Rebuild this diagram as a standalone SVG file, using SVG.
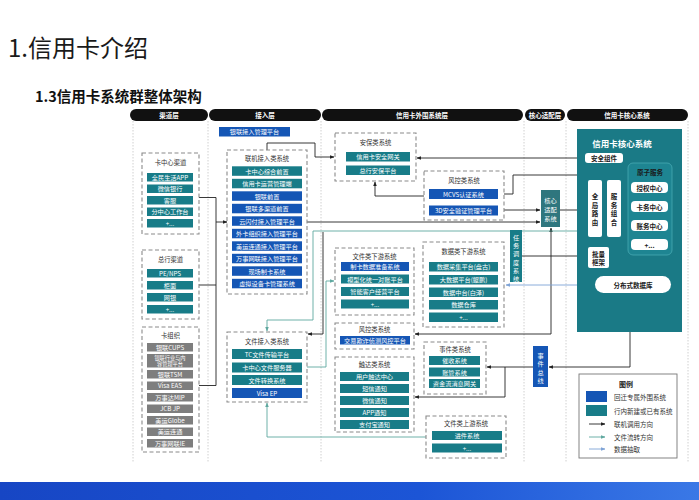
<svg xmlns="http://www.w3.org/2000/svg" width="699" height="500" viewBox="0 0 699 500">
<defs>
<style>
text{font-family:"Noto Sans CJK SC","Noto Sans",sans-serif}
.grp{fill:#fff;stroke:#8a8a8a;stroke-width:1.1;stroke-dasharray:4 2.5}
.gt{font-size:6.3px;fill:#333;text-anchor:middle}
.t{fill:#187c88}
.b{fill:#1556b5}
.g{fill:#7e7e7e}
.it{font-size:6.2px;fill:#fff;text-anchor:middle;dominant-baseline:central}
.sm{font-size:5.2px;fill:#fff;text-anchor:middle}
.pill{fill:#111}
.pt{font-size:6.5px;fill:#fff;text-anchor:middle;dominant-baseline:central;font-weight:bold}
.sep{stroke:#c4c4c4;stroke-width:0.8;stroke-dasharray:1.5 1.5;fill:none}
.wb{fill:#fff}
.wt{font-size:6.5px;fill:#1a1a1a;text-anchor:middle;dominant-baseline:central;font-weight:bold}
.ln{fill:none;stroke:#222;stroke-width:0.9}
.lf{fill:none;stroke:#5fa89f;stroke-width:0.9}
.ld{fill:none;stroke:#7ea3d6;stroke-width:0.9}
.lg{font-size:6.5px;fill:#333;dominant-baseline:central}
</style>
<marker id="ak" viewBox="0 0 10 10" refX="9" refY="5" markerWidth="5" markerHeight="5" orient="auto-start-reverse"><path d="M0,1 L10,5 L0,9 z" fill="#222"/></marker>
<marker id="af" viewBox="0 0 10 10" refX="9" refY="5" markerWidth="5" markerHeight="5" orient="auto-start-reverse"><path d="M0,1 L10,5 L0,9 z" fill="#5fa89f"/></marker>
<marker id="ad" viewBox="0 0 10 10" refX="9" refY="5" markerWidth="5" markerHeight="5" orient="auto-start-reverse"><path d="M0,1 L10,5 L0,9 z" fill="#7ea3d6"/></marker>
<linearGradient id="band" x1="0" y1="0" x2="1" y2="0"><stop offset="0" stop-color="#1746c4"/><stop offset="0.6" stop-color="#1c55d6"/><stop offset="1" stop-color="#3a78e6"/></linearGradient>
</defs>
<rect width="699" height="500" fill="#fff"/>
<text x="8" y="57" font-size="24" fill="#1a1a1a">1.信用卡介绍</text>
<text x="35" y="102" font-size="14.5" font-weight="bold" fill="#111">1.3信用卡系统群整体架构</text>
<rect x="0" y="482" width="699" height="18" fill="url(#band)"/>

<g id="columns">
<path class="sep" d="M133,121V462M208,121V462M321,121V462M524,121V462M566,121V462M688,121V462"/>
<rect class="pill" x="130" y="109" width="78" height="12" rx="6"/><text class="pt" x="169" y="115">渠道层</text>
<rect class="pill" x="209" y="109" width="112" height="12" rx="6"/><text class="pt" x="265" y="115">接入层</text>
<rect class="pill" x="322" y="109" width="201" height="12" rx="6"/><text class="pt" x="422" y="115">信用卡外围系统层</text>
<rect class="pill" x="525" y="109" width="40" height="12" rx="6"/><text class="pt" x="545" y="115">核心适配层</text>
<rect class="pill" x="567" y="109" width="121" height="12" rx="6"/><text class="pt" x="627" y="115">信用卡核心系统</text>
</g>

<g id="connectors">
<path class="ln" d="M199,197.5H216V222H227" marker-end="url(#ak)"/>
<path class="ln" d="M199,285H216V222"/>
<path class="ln" d="M199,385.5H216V285"/>
<path class="ln" d="M267,150V143H315V157H334" marker-end="url(#ak)"/>
<path class="ln" d="M585,158H417" marker-end="url(#ak)"/>
<path class="ln" d="M614,180V175H513V194H499" marker-end="url(#ak)"/>
<path class="ln" d="M430,196H375V182" marker-end="url(#ak)"/>
<path class="ln" d="M498,210H540" marker-end="url(#ak)"/>
<path class="ln" d="M307,222H540" marker-end="url(#ak)"/>
<path class="ln" d="M560,210H587" marker-end="url(#ak)"/>
<path class="ln" d="M522,256H587" marker-end="url(#ak)"/>
<path class="ln" d="M551,228V334H415" marker-start="url(#ak)" marker-end="url(#ak)"/>
<path class="ln" d="M630,332V367H549" marker-end="url(#ak)"/>
<path class="ln" d="M533,367H487" marker-end="url(#ak)"/>
<path class="ln" d="M505,367V397H415" marker-end="url(#ak)"/>
<path class="ln" d="M323,232V334H308" marker-end="url(#ak)"/>
<path class="lf" d="M577,231H313V320H267V331" marker-end="url(#af)"/>
<path class="lf" d="M426,437H267V403" marker-end="url(#af)"/>
<path class="lf" d="M307,367H326V281H334" marker-end="url(#af)"/>
<path class="ld" d="M577,285H506" marker-end="url(#ad)"/>
</g>

<g id="kzx">
<rect class="grp" x="142" y="153" width="57" height="81"/>
<text class="gt" x="170.5" y="165">卡中心渠道</text>
<rect class="t" x="147" y="173" width="46" height="8.5"/><text class="it" x="170" y="177.3">全民生活APP</text>
<rect class="t" x="147" y="184.5" width="46" height="8.5"/><text class="it" x="170" y="188.8">微信银行</text>
<rect class="t" x="147" y="196" width="46" height="8.5"/><text class="it" x="170" y="200.3">客服</text>
<rect class="t" x="147" y="207.5" width="46" height="8.5"/><text class="it" x="170" y="211.8">分中心工作台</text>
<rect class="t" x="147" y="219" width="46" height="8.5"/><text class="it" x="170" y="223.3">+...</text>
</g>
<g id="zhqd">
<rect class="grp" x="142" y="250" width="57" height="69"/>
<text class="gt" x="170.5" y="262">总行渠道</text>
<rect class="t" x="147" y="269" width="46" height="8.5"/><text class="it" x="170" y="273.3">PE/NPS</text>
<rect class="t" x="147" y="281" width="46" height="8.5"/><text class="it" x="170" y="285.3">柜面</text>
<rect class="t" x="147" y="293" width="46" height="8.5"/><text class="it" x="170" y="297.3">网银</text>
<rect class="t" x="147" y="305" width="46" height="8.5"/><text class="it" x="170" y="309.3">+...</text>
</g>
<g id="kzz">
<rect class="grp" x="142" y="327" width="57" height="125"/>
<text class="gt" x="170.5" y="338">卡组织</text>
<rect class="g" x="147" y="343" width="46" height="8.5"/><text class="it" x="170" y="347.3">银联CUPS</text>
<rect class="g" x="147" y="354" width="46" height="13.5"/><text class="sm" x="170" y="359.6">银联行业与内<tspan x="170" dy="6.2">容管理平台</tspan></text>
<rect class="g" x="147" y="370" width="46" height="8.5"/><text class="it" x="170" y="374.3">银联TSM</text>
<rect class="g" x="147" y="381.5" width="46" height="8.5"/><text class="it" x="170" y="385.8">Visa EAS</text>
<rect class="g" x="147" y="393" width="46" height="8.5"/><text class="it" x="170" y="397.3">万事达MIP</text>
<rect class="g" x="147" y="404.5" width="46" height="8.5"/><text class="it" x="170" y="408.8">JCB JP</text>
<rect class="g" x="147" y="416" width="46" height="8.5"/><text class="it" x="170" y="420.3">美运Globe</text>
<rect class="g" x="147" y="427.5" width="46" height="8.5"/><text class="it" x="170" y="431.8">美运连通</text>
<rect class="g" x="147" y="439" width="46" height="8.5"/><text class="it" x="170" y="443.3">万事网联IE</text>
</g>

<g id="ylgl">
<rect class="b" x="219" y="127" width="71" height="9.5"/><text class="it" x="254.5" y="131.8">银联接入管理平台</text>
</g>
<g id="ljjr">
<rect class="grp" x="227" y="150" width="80" height="144"/>
<text class="gt" x="267" y="161">联机接入类系统</text>
<rect class="t" x="232" y="166.3" width="70" height="9.5"/><text class="it" x="267" y="171">卡中心综合前置</text>
<rect class="t" x="232" y="178.8" width="70" height="9.5"/><text class="it" x="267" y="183.5">信用卡运营管理端</text>
<rect class="b" x="232" y="191.3" width="70" height="9.5"/><text class="it" x="267" y="196">银联前置</text>
<rect class="b" x="232" y="203.8" width="70" height="9.5"/><text class="it" x="267" y="208.5">银联多渠道前置</text>
<rect class="b" x="232" y="216.3" width="70" height="9.5"/><text class="it" x="267" y="221">云闪付接入管理平台</text>
<rect class="b" x="232" y="228.8" width="70" height="9.5"/><text class="it" x="267" y="233.5">外卡组织接入管理平台</text>
<rect class="b" x="232" y="241.3" width="70" height="9.5"/><text class="it" x="267" y="246">美运连通接入管理平台</text>
<rect class="b" x="232" y="253.8" width="70" height="9.5"/><text class="it" x="267" y="258.5">万事网联接入管理平台</text>
<rect class="b" x="232" y="266.3" width="70" height="9.5"/><text class="it" x="267" y="271">现场制卡系统</text>
<rect class="b" x="232" y="278.8" width="70" height="9.5"/><text class="it" x="267" y="283.5">虚拟设备卡管理系统</text>
</g>
<g id="wjjr">
<rect class="grp" x="227" y="332" width="80" height="70"/>
<text class="gt" x="267" y="344">文件接入类系统</text>
<rect class="t" x="232" y="349" width="70" height="10"/><text class="it" x="267" y="354">TC文件传输平台</text>
<rect class="t" x="232" y="362.5" width="70" height="10"/><text class="it" x="267" y="367.5">卡中心文件服务器</text>
<rect class="t" x="232" y="375" width="70" height="10"/><text class="it" x="267" y="380">文件转换系统</text>
<rect class="b" x="232" y="388" width="70" height="10"/><text class="it" x="267" y="393">Visa EP</text>
</g>

<g id="abl">
<rect class="grp" x="335" y="133" width="81" height="48"/>
<text class="gt" x="375.5" y="145">安保类系统</text>
<rect class="t" x="346" y="152" width="64" height="9.5"/><text class="it" x="378" y="156.8">信用卡安全网关</text>
<rect class="t" x="346" y="165.5" width="64" height="9.5"/><text class="it" x="378" y="170.3">总行安保平台</text>
</g>
<g id="fkl1">
<rect class="grp" x="424" y="171" width="80" height="49"/>
<text class="gt" x="464" y="183">风控类系统</text>
<rect class="b" x="429" y="189" width="69" height="10"/><text class="it" x="463.5" y="194">MCVS认证系统</text>
<rect class="b" x="429" y="205.5" width="69" height="10"/><text class="it" x="463.5" y="210.5">3D安全验证管理平台</text>
</g>
<g id="wjxy">
<rect class="grp" x="335" y="248" width="79" height="67"/>
<text class="gt" x="374.5" y="259">文件类下游系统</text>
<rect class="b" x="341" y="262" width="68" height="9"/><text class="it" x="375" y="266.5">制卡数据准备系统</text>
<rect class="t" x="341" y="274.5" width="68" height="9"/><text class="it" x="375" y="279">模型化统一对账平台</text>
<rect class="t" x="341" y="287" width="68" height="9"/><text class="it" x="375" y="291.5">智能客户经营平台</text>
<rect class="t" x="341" y="299.5" width="68" height="9"/><text class="it" x="375" y="304">+...</text>
</g>
<g id="sjxy">
<rect class="grp" x="423" y="242" width="81" height="85"/>
<text class="gt" x="463.5" y="254">数据类下游系统</text>
<rect class="t" x="429" y="262" width="69" height="9.5"/><text class="it" x="463.5" y="266.8">数据采集平台(盘古)</text>
<rect class="t" x="429" y="275" width="69" height="9.5"/><text class="it" x="463.5" y="279.8">大数据平台(鲲鹏)</text>
<rect class="t" x="429" y="287.5" width="69" height="9.5"/><text class="it" x="463.5" y="292.3">数据中台(白泽)</text>
<rect class="t" x="429" y="300" width="69" height="9.5"/><text class="it" x="463.5" y="304.8">数据仓库</text>
<rect class="t" x="429" y="312.5" width="69" height="9.5"/><text class="it" x="463.5" y="317.3">+...</text>
</g>
<g id="fkl2">
<rect class="grp" x="335" y="323" width="79" height="26"/>
<text class="gt" x="374.5" y="332">风控类系统</text>
<rect class="b" x="340" y="336" width="70" height="8.5"/><text class="it" x="375" y="340.3">交易欺诈侦测风控平台</text>
</g>
<g id="cdl">
<rect class="grp" x="335" y="357" width="79" height="75"/>
<text class="gt" x="374.5" y="367">触达类系统</text>
<rect class="t" x="340" y="372" width="69" height="9"/><text class="it" x="374.5" y="376.5">用户触达中心</text>
<rect class="t" x="340" y="384" width="69" height="9"/><text class="it" x="374.5" y="388.5">短信通知</text>
<rect class="t" x="340" y="396" width="69" height="9"/><text class="it" x="374.5" y="400.5">微信通知</text>
<rect class="t" x="340" y="408" width="69" height="9"/><text class="it" x="374.5" y="412.5">APP通知</text>
<rect class="t" x="340" y="420" width="69" height="9"/><text class="it" x="374.5" y="424.5">支付宝通知</text>
</g>
<g id="sjl">
<rect class="grp" x="424" y="342" width="62" height="52"/>
<text class="gt" x="455" y="352">事件类系统</text>
<rect class="t" x="429" y="356" width="51" height="9"/><text class="it" x="454.5" y="360.5">催收系统</text>
<rect class="t" x="429" y="367.5" width="51" height="9"/><text class="it" x="454.5" y="372">账管系统</text>
<rect class="t" x="429" y="379" width="51" height="9"/><text class="it" x="454.5" y="383.5">资金流消息网关</text>
</g>
<g id="wjsy">
<rect class="grp" x="426" y="416" width="80" height="42"/>
<text class="gt" x="466" y="426">文件类上游系统</text>
<rect class="t" x="432" y="431" width="70" height="9"/><text class="it" x="467" y="435.5">进件系统</text>
<rect class="t" x="432" y="443.5" width="70" height="9"/><text class="it" x="467" y="448">+...</text>
</g>

<g id="rwdd">
<rect class="t" x="510" y="230" width="12" height="52"/>
<text class="it" x="516" y="237.5">任</text><text class="it" x="516" y="245.7">务</text><text class="it" x="516" y="253.9">调</text><text class="it" x="516" y="262.1">度</text><text class="it" x="516" y="270.3">系</text><text class="it" x="516" y="278.5">统</text>
</g>
<g id="hxsp">
<rect fill="#2f767e" x="541" y="190" width="19" height="37"/>
<text class="it" x="550.5" y="200">核心</text><text class="it" x="550.5" y="209">适配</text><text class="it" x="550.5" y="218">系统</text>
</g>
<g id="sjzx">
<rect class="b" x="533" y="346" width="15" height="41"/>
<text class="it" x="540.5" y="355">事</text><text class="it" x="540.5" y="363.5">件</text><text class="it" x="540.5" y="372">总</text><text class="it" x="540.5" y="380.5">线</text>
</g>

<g id="core">
<rect fill="#1a7a86" x="577" y="129" width="105" height="203"/>
<text x="622" y="143" font-size="8.5" font-weight="bold" fill="#fff" text-anchor="middle" dominant-baseline="central">信用卡核心系统</text>
<rect class="wb" x="585" y="153" width="38" height="10" rx="3"/><text class="wt" x="604" y="158">安全组件</text>
<rect fill="#1e8592" stroke="#48a9b3" stroke-width="0.8" x="628" y="163" width="44" height="92" rx="5"/>
<text class="wt" x="650" y="172">原子服务</text>
<rect class="wb" x="631" y="182" width="37" height="11" rx="4"/><text class="wt" x="649.5" y="187.5">授权中心</text>
<rect class="wb" x="631" y="201" width="37" height="11" rx="4"/><text class="wt" x="649.5" y="206.5">卡务中心</text>
<rect class="wb" x="631" y="220" width="37" height="11" rx="4"/><text class="wt" x="649.5" y="225.5">账务中心</text>
<rect class="wb" x="631" y="239" width="37" height="11" rx="4"/><text class="wt" x="649.5" y="244.5">+...</text>
<rect class="wb" x="588" y="180" width="14" height="57" rx="2"/>
<text class="wt" x="595" y="196">全</text><text class="wt" x="595" y="204.7">局</text><text class="wt" x="595" y="213.4">路</text><text class="wt" x="595" y="222.1">由</text>
<rect class="wb" x="607" y="180" width="14" height="57" rx="2"/>
<text class="wt" x="614" y="196">服</text><text class="wt" x="614" y="204.7">务</text><text class="wt" x="614" y="213.4">组</text><text class="wt" x="614" y="222.1">合</text>
<rect class="wb" x="588" y="247" width="21" height="21" rx="2"/>
<text class="wt" x="598.5" y="253.5">批量</text><text class="wt" x="598.5" y="262">框架</text>
<rect class="wb" x="595" y="276" width="76" height="17" rx="8.5"/><text class="wt" x="633" y="284.5" font-size="7">分布式数据库</text>
</g>

<g id="legend">
<rect x="579" y="374" width="98" height="84" fill="#fff" stroke="#777" stroke-width="0.9"/>
<text x="626" y="384" font-size="7" font-weight="bold" fill="#222" text-anchor="middle" dominant-baseline="central">图例</text>
<rect class="b" x="586" y="391" width="21" height="11"/><text class="lg" x="614" y="396.5">回迁专属外围系统</text>
<rect class="t" x="586" y="405" width="21" height="11"/><text class="lg" x="614" y="410.5">行内新建或已有系统</text>
<path class="ln" d="M589,424H605" marker-end="url(#ak)"/><text class="lg" x="614" y="424">联机调用方向</text>
<path class="lf" d="M589,437H605" marker-end="url(#af)"/><text class="lg" x="614" y="437">文件流转方向</text>
<path class="ld" d="M589,449H605" marker-end="url(#ad)"/><text class="lg" x="614" y="449">数据抽取</text>
</g>
</svg>
